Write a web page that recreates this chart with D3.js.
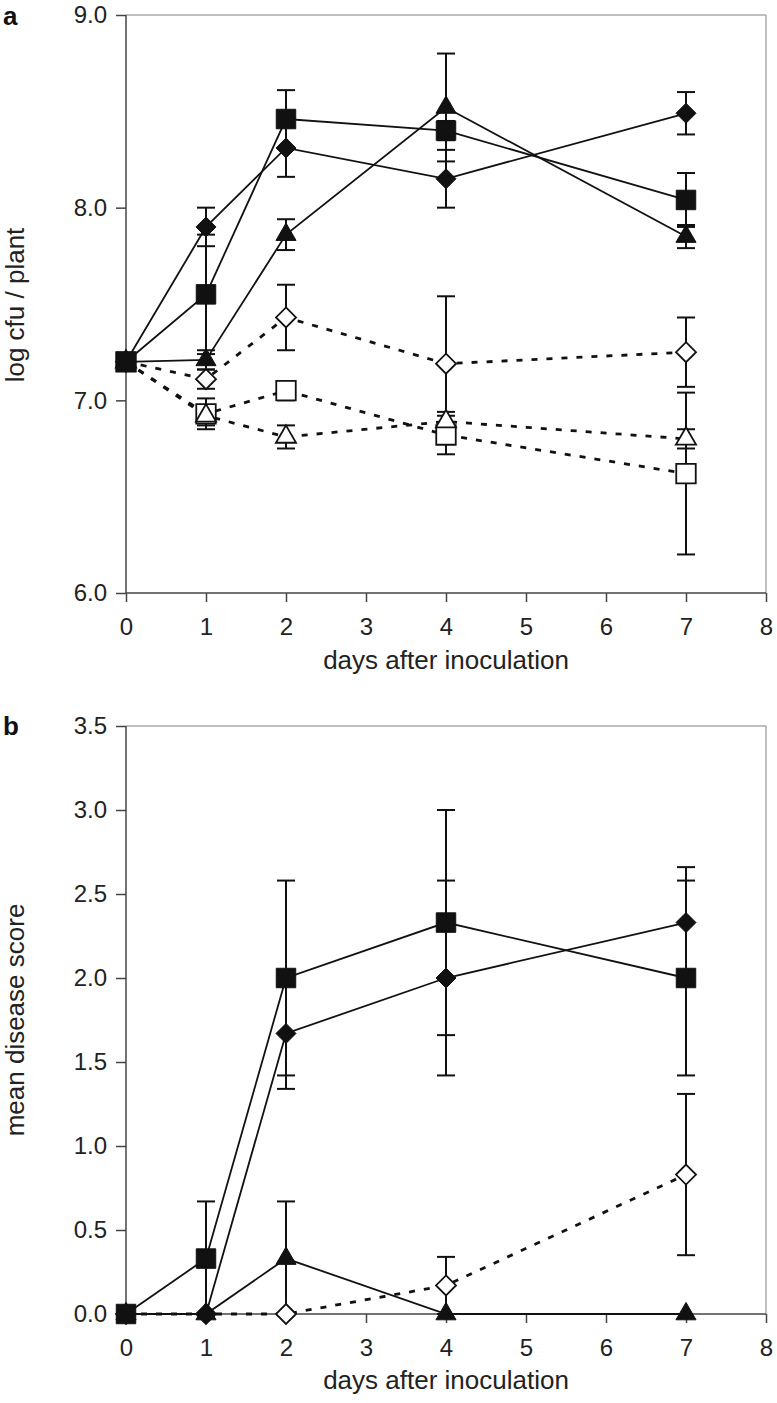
<!DOCTYPE html>
<html><head><meta charset="utf-8">
<script src="https://cdn.jsdelivr.net/npm/d3@7"></script>
<style>body{margin:0;background:#fff}svg{display:block}text{font-family:"Liberation Sans",Arial,sans-serif}</style>
</head><body><svg id="c" width="777" height="1403"></svg>
<script>
// ---- data ----
const days = [0, 1, 2, 4, 7];
const xTicks = [0, 1, 2, 3, 4, 5, 6, 7, 8];
const yTicksA = [6.0, 7.0, 8.0, 9.0];
const yTicksB = [0.0, 0.5, 1.0, 1.5, 2.0, 2.5, 3.0, 3.5];

// panel a: log cfu / plant
const aFilledDiamond = [7.20, 7.90, 8.31, 8.15, 8.49];
const aFilledDiamondErr = [0, 0.10, 0.15, 0.15, 0.11];
const aFilledSquare = [7.20, 7.55, 8.46, 8.40, 8.04];
const aFilledSquareErr = [0, 0.31, 0.15, 0.05, 0.14];
const aFilledTriangle = [7.20, 7.21, 7.86, 8.52, 7.85];
const aFilledTriangleErr = [0, 0.05, 0.08, 0.28, 0.06];
const aOpenDiamond = [7.20, 7.11, 7.43, 7.19, 7.25];
const aOpenDiamondErr = [0, 0.05, 0.17, 0.35, 0.18];
const aOpenSquare = [7.20, 6.93, 7.05, 6.82, 6.62];
const aOpenSquareErr = [0, 0.08, 0.05, 0.10, 0.42];
const aOpenTriangle = [7.20, 6.92, 6.81, 6.89, 6.80];
const aOpenTriangleErr = [0, 0.05, 0.06, 0.05, 0.05];

// panel b: mean disease score
const bFilledDiamond = [0, 0, 1.67, 2.00, 2.33];
const bFilledDiamondErr = [0, 0, 0.33, 0.58, 0.33];
const bFilledSquare = [0, 0.33, 2.00, 2.33, 2.00];
const bFilledSquareErr = [0, 0.34, 0.58, 0.67, 0.58];
const bFilledTriangle = [0, 0, 0.33, 0, 0];
const bFilledTriangleErr = [0, 0, 0.34, 0, 0];
const bOpenDiamond = [0, 0, 0, 0.17, 0.83];
const bOpenDiamondErr = [0, 0, 0, 0.17, 0.48];

// ---- drawing ----
const svg = d3.select("#c");
const FONT = '"Liberation Sans",Arial,sans-serif';
const diamondType = {draw(ctx, size){ const r = Math.sqrt(size)/2; ctx.moveTo(0,-r); ctx.lineTo(r,0); ctx.lineTo(0,r); ctx.lineTo(-r,0); ctx.closePath(); }};
const shapes = {
  diamond: d3.symbol().type(diamondType).size(400),
  square: d3.symbol().type(d3.symbolSquare).size(380),
  triangle: d3.symbol().type(d3.symbolTriangle).size(175)
};

function panel(cfg){
  const x = d3.scaleLinear().domain([0, 8]).range([126, 766]);
  const y = d3.scaleLinear().domain(cfg.yDomain).range(cfg.yRange);
  const g = svg.append("g");
  // frame top/right
  g.append("line").attr("x1", x(0)).attr("x2", x(8)).attr("y1", y.range()[1]).attr("y2", y.range()[1]).attr("stroke", "#aaa").attr("stroke-width", 1.5);
  g.append("line").attr("x1", x(8)).attr("x2", x(8)).attr("y1", y.range()[1]).attr("y2", y.range()[0]).attr("stroke", "#aaa").attr("stroke-width", 1.5);
  const ax = g.append("g").attr("transform", `translate(0,${y.range()[0]})`)
    .call(d3.axisBottom(x).tickValues(xTicks).tickSize(9).tickPadding(16).tickFormat(d3.format("d")));
  const ay = g.append("g").attr("transform", `translate(${x(0)},0)`)
    .call(d3.axisLeft(y).tickValues(cfg.yTicks).tickSize(10).tickPadding(9).tickFormat(d3.format(".1f")));
  [ax, ay].forEach(a => {
    a.selectAll("path,line").attr("stroke", "#444").attr("stroke-width", 1.5);
    a.selectAll("text").attr("font-size", 24).attr("fill", "#222").attr("font-family", FONT);
  });
  ax.select(".domain").attr("d", `M${x(0)},0H${x(8)}`);
  ay.select(".domain").attr("d", `M0,${y.range()[0]}V${y.range()[1]}`);
  g.append("text").attr("x", 446).attr("y", cfg.xTitleY).attr("text-anchor", "middle")
    .attr("font-size", 26).attr("fill", "#222").text("days after inoculation");
  g.append("text").attr("transform", `translate(24,${cfg.yTitleMid}) rotate(-90)`).attr("text-anchor", "middle")
    .attr("font-size", 26).attr("fill", "#222").text(cfg.yTitle);
  g.append("text").attr("x", 3).attr("y", cfg.labelY).attr("font-size", 26).attr("font-weight", "bold").attr("fill", "#111").text(cfg.label);

  const line = d3.line().x((d, i) => x(days[i])).y(d => y(d));
  cfg.series.forEach(s => {
    g.append("path").datum(s.v).attr("d", line).attr("fill", "none").attr("stroke", "#111")
      .attr("stroke-width", s.open ? 2.8 : 1.8).attr("stroke-dasharray", s.open ? "6,9" : null);
  });
  cfg.series.forEach(s => {
    s.v.forEach((v, i) => {
      const e = s.e[i]; if (!e) return;
      const cx = x(days[i]);
      g.append("line").attr("x1", cx).attr("x2", cx).attr("y1", y(v - e)).attr("y2", y(v + e)).attr("stroke", "#111").attr("stroke-width", 2);
      [v - e, v + e].forEach(t => g.append("line").attr("x1", cx - 9).attr("x2", cx + 9).attr("y1", y(t)).attr("y2", y(t)).attr("stroke", "#111").attr("stroke-width", 2));
    });
  });
  cfg.series.forEach(s => {
    g.selectAll(null).data(s.v).enter().append("path")
      .attr("transform", (d, i) => `translate(${x(days[i])},${y(d)})`)
      .attr("d", shapes[s.shape])
      .attr("fill", s.open ? "#fff" : "#111").attr("stroke", "#111").attr("stroke-width", s.open ? 1.8 : 1);
  });
}

panel({
  yDomain: [6, 9], yRange: [593, 15], yTicks: yTicksA, xTitleY: 669, yTitle: "log cfu / plant", yTitleMid: 305, label: "a", labelY: 25,
  series: [
    {v: aOpenSquare, e: aOpenSquareErr, shape: "square", open: true},
    {v: aOpenTriangle, e: aOpenTriangleErr, shape: "triangle", open: true},
    {v: aOpenDiamond, e: aOpenDiamondErr, shape: "diamond", open: true},
    {v: aFilledTriangle, e: aFilledTriangleErr, shape: "triangle", open: false},
    {v: aFilledSquare, e: aFilledSquareErr, shape: "square", open: false},
    {v: aFilledDiamond, e: aFilledDiamondErr, shape: "diamond", open: false}
  ]
});
panel({
  yDomain: [0, 3.5], yRange: [1314, 726], yTicks: yTicksB, xTitleY: 1389, yTitle: "mean disease score", yTitleMid: 1020, label: "b", labelY: 735,
  series: [
    {v: bOpenDiamond, e: bOpenDiamondErr, shape: "diamond", open: true},
    {v: bFilledDiamond, e: bFilledDiamondErr, shape: "diamond", open: false},
    {v: bFilledTriangle, e: bFilledTriangleErr, shape: "triangle", open: false},
    {v: bFilledSquare, e: bFilledSquareErr, shape: "square", open: false}
  ]
});
</script></body></html>
